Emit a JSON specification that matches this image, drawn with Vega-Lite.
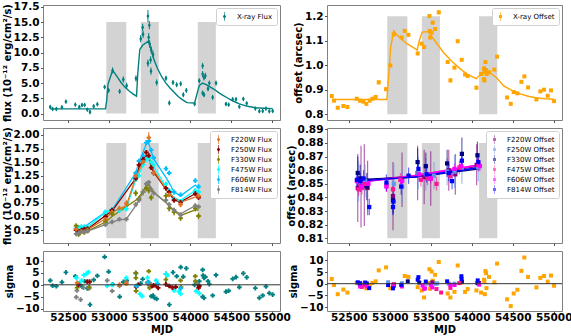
{
 "$schema": "https://vega.github.io/schema/vega-lite/v6.json",
 "background": "white",
 "padding": {"left": 1, "top": 1, "right": 5, "bottom": 0},
 "columns": 2,
 "spacing": {"row": 8, "column": 47},
 "bounds": "flush",
 "resolve": {"scale": {"color": "independent"}, "legend": {"color": "independent"}},
 "datasets": {
  "shade": [{"x0":52970,"x1":53215},{"x0":53392,"x1":53612},{"x0":54090,"x1":54312}],
  "xflux": [
   {"mjd":52283,"flux":1.09,"err":0.3},{"mjd":52312,"flux":0.76,"err":0.3},{"mjd":52357,"flux":0.76,"err":0.25},{"mjd":52426,"flux":1.03,"err":0.3},{"mjd":52475,"flux":1.96,"err":0.3},
   {"mjd":52590,"flux":1.47,"err":0.3},{"mjd":52639,"flux":1.09,"err":0.3},{"mjd":52672,"flux":1.41,"err":0.3},{"mjd":52704,"flux":1.41,"err":0.3},{"mjd":52737,"flux":0.65,"err":0.3},
   {"mjd":52770,"flux":0.27,"err":0.35},{"mjd":52815,"flux":1.2,"err":0.3},{"mjd":52860,"flux":1.52,"err":0.3},{"mjd":52949,"flux":4.35,"err":0.35},{"mjd":52998,"flux":3.8,"err":0.4},
   {"mjd":53047,"flux":7.07,"err":0.5},{"mjd":53133,"flux":3.64,"err":0.4},{"mjd":53178,"flux":5.6,"err":0.5},{"mjd":53219,"flux":4.57,"err":0.5},{"mjd":53333,"flux":5.76,"err":0.5},
   {"mjd":53391,"flux":12.28,"err":0.6},{"mjd":53415,"flux":14.13,"err":0.6},{"mjd":53420,"flux":13.0,"err":0.6},{"mjd":53480,"flux":15.98,"err":1.0},{"mjd":53497,"flux":14.5,"err":0.7},
   {"mjd":53489,"flux":12.5,"err":0.7},{"mjd":53501,"flux":11.4,"err":0.6},{"mjd":53521,"flux":10.4,"err":0.6},{"mjd":53542,"flux":9.7,"err":0.6},{"mjd":53480,"flux":8.26,"err":0.6},
   {"mjd":53513,"flux":8.8,"err":0.6},{"mjd":53517,"flux":6.96,"err":0.6},{"mjd":53587,"flux":5.1,"err":0.5},{"mjd":53701,"flux":5.8,"err":0.4},{"mjd":53742,"flux":1.74,"err":0.4},
   {"mjd":53787,"flux":5.1,"err":0.4},{"mjd":53832,"flux":4.73,"err":0.4},{"mjd":53881,"flux":4.89,"err":0.4},{"mjd":53913,"flux":3.1,"err":0.4},{"mjd":53950,"flux":3.8,"err":0.4},
   {"mjd":54052,"flux":1.58,"err":0.3},{"mjd":54109,"flux":5.38,"err":0.4},{"mjd":54150,"flux":7.83,"err":0.5},{"mjd":54150,"flux":6.47,"err":0.5},{"mjd":54167,"flux":5.92,"err":0.5},
   {"mjd":54183,"flux":6.2,"err":0.5},{"mjd":54150,"flux":3.37,"err":0.4},{"mjd":54167,"flux":3.1,"err":0.4},{"mjd":54216,"flux":4.08,"err":0.4},{"mjd":54232,"flux":5.0,"err":0.4},
   {"mjd":54273,"flux":2.66,"err":0.4},{"mjd":54314,"flux":5.0,"err":0.4},{"mjd":54436,"flux":1.58,"err":0.3},{"mjd":54469,"flux":1.47,"err":0.3},{"mjd":54518,"flux":2.34,"err":0.3},
   {"mjd":54559,"flux":2.34,"err":0.3},{"mjd":54600,"flux":1.14,"err":0.3},{"mjd":54649,"flux":2.4,"err":0.3},{"mjd":54690,"flux":1.68,"err":0.3},{"mjd":54796,"flux":0.82,"err":0.3},
   {"mjd":54845,"flux":0.38,"err":0.3},{"mjd":54886,"flux":0.43,"err":0.3},{"mjd":54926,"flux":0.82,"err":0.3},{"mjd":54967,"flux":0.38,"err":0.3},{"mjd":55008,"flux":0.43,"err":0.3}
  ],
  "xfluxModel": [
   {"mjd":52283,"model":0.78},{"mjd":52960,"model":0.78},{"mjd":52975,"model":2.2},{"mjd":52990,"model":4.8},{"mjd":53047,"model":7.1},{"mjd":53100,"model":6.1},
   {"mjd":53150,"model":5.1},{"mjd":53200,"model":4.3},{"mjd":53250,"model":3.7},{"mjd":53300,"model":3.2},{"mjd":53340,"model":2.85},{"mjd":53355,"model":6.5},
   {"mjd":53380,"model":10.5},{"mjd":53415,"model":11.2},{"mjd":53489,"model":11.9},{"mjd":53520,"model":10.4},{"mjd":53560,"model":8.6},{"mjd":53600,"model":7.3},
   {"mjd":53650,"model":6.0},{"mjd":53700,"model":5.0},{"mjd":53750,"model":4.2},{"mjd":53800,"model":3.5},{"mjd":53850,"model":2.8},{"mjd":53900,"model":2.3},
   {"mjd":53958,"model":1.8},{"mjd":54052,"model":1.75},{"mjd":54080,"model":3.2},{"mjd":54109,"model":4.6},{"mjd":54150,"model":5.0},{"mjd":54200,"model":4.7},
   {"mjd":54250,"model":4.3},{"mjd":54300,"model":3.9},{"mjd":54350,"model":3.4},{"mjd":54400,"model":3.0},{"mjd":54450,"model":2.6},{"mjd":54500,"model":2.2},
   {"mjd":54550,"model":1.9},{"mjd":54600,"model":1.6},{"mjd":54650,"model":1.4},{"mjd":54700,"model":1.2},{"mjd":54800,"model":0.95},{"mjd":54900,"model":0.88},{"mjd":55008,"model":0.82}
  ],
  "xoff": [
   {"mjd":52293,"off":0.874,"err":0.006},{"mjd":52321,"off":0.855,"err":0.006},{"mjd":52366,"off":0.826,"err":0.006},{"mjd":52435,"off":0.833,"err":0.006},{"mjd":52484,"off":0.829,"err":0.006},
   {"mjd":52598,"off":0.863,"err":0.006},{"mjd":52638,"off":0.855,"err":0.006},{"mjd":52679,"off":0.851,"err":0.006},{"mjd":52715,"off":0.842,"err":0.006},{"mjd":52756,"off":0.855,"err":0.006},
   {"mjd":52789,"off":0.863,"err":0.006},{"mjd":52829,"off":0.870,"err":0.006},{"mjd":52866,"off":0.930,"err":0.01},{"mjd":52955,"off":0.902,"err":0.008},{"mjd":53008,"off":0.999,"err":0.008},
   {"mjd":53049,"off":1.126,"err":0.008},{"mjd":53146,"off":1.113,"err":0.006},{"mjd":53183,"off":1.140,"err":0.006},{"mjd":53228,"off":1.124,"err":0.006},{"mjd":53341,"off":1.048,"err":0.008},
   {"mjd":53390,"off":1.088,"err":0.006},{"mjd":53419,"off":1.074,"err":0.006},{"mjd":53484,"off":1.201,"err":0.006},{"mjd":53492,"off":1.113,"err":0.006},{"mjd":53488,"off":1.140,"err":0.006},
   {"mjd":53512,"off":1.133,"err":0.006},{"mjd":53524,"off":1.174,"err":0.006},{"mjd":53553,"off":1.148,"err":0.006},{"mjd":53598,"off":1.216,"err":0.01},{"mjd":53707,"off":1.013,"err":0.006},
   {"mjd":53740,"off":0.938,"err":0.01},{"mjd":53789,"off":0.990,"err":0.006},{"mjd":53829,"off":1.098,"err":0.006},{"mjd":53878,"off":1.022,"err":0.006},{"mjd":53919,"off":0.962,"err":0.006},
   {"mjd":53951,"off":0.956,"err":0.006},{"mjd":54057,"off":0.908,"err":0.008},{"mjd":54114,"off":0.964,"err":0.006},{"mjd":54150,"off":0.987,"err":0.006},{"mjd":54155,"off":0.975,"err":0.006},
   {"mjd":54167,"off":1.013,"err":0.008},{"mjd":54175,"off":0.980,"err":0.006},{"mjd":54180,"off":0.964,"err":0.006},{"mjd":54155,"off":0.938,"err":0.006},{"mjd":54150,"off":0.943,"err":0.006},
   {"mjd":54211,"off":0.971,"err":0.006},{"mjd":54276,"off":0.982,"err":0.006},{"mjd":54309,"off":1.035,"err":0.006},{"mjd":54431,"off":0.868,"err":0.006},{"mjd":54476,"off":0.842,"err":0.006},
   {"mjd":54512,"off":0.890,"err":0.006},{"mjd":54557,"off":0.885,"err":0.006},{"mjd":54606,"off":0.932,"err":0.006},{"mjd":54642,"off":0.954,"err":0.006},{"mjd":54687,"off":0.909,"err":0.006},
   {"mjd":54789,"off":0.860,"err":0.006},{"mjd":54837,"off":0.893,"err":0.006},{"mjd":54882,"off":0.900,"err":0.006},{"mjd":54927,"off":0.875,"err":0.006},{"mjd":54967,"off":0.897,"err":0.006},
   {"mjd":55004,"off":0.853,"err":0.006}
  ],
  "xoffModel": [
   {"mjd":52293,"model":0.86},{"mjd":52965,"model":0.86},{"mjd":52990,"model":0.97},{"mjd":53010,"model":1.07},{"mjd":53049,"model":1.14},{"mjd":53100,"model":1.12},
   {"mjd":53200,"model":1.09},{"mjd":53300,"model":1.07},{"mjd":53335,"model":1.062},{"mjd":53360,"model":1.10},{"mjd":53395,"model":1.135},{"mjd":53470,"model":1.137},
   {"mjd":53550,"model":1.10},{"mjd":53660,"model":1.05},{"mjd":53760,"model":1.015},{"mjd":53860,"model":0.985},{"mjd":53960,"model":0.96},{"mjd":54055,"model":0.945},
   {"mjd":54100,"model":0.96},{"mjd":54150,"model":0.968},{"mjd":54207,"model":0.972},{"mjd":54300,"model":0.95},{"mjd":54390,"model":0.915},{"mjd":54500,"model":0.895},
   {"mjd":54600,"model":0.882},{"mjd":54700,"model":0.872},{"mjd":54800,"model":0.866},{"mjd":54900,"model":0.863},{"mjd":55004,"model":0.861}
  ],
  "oflux": [
   {"f":"F606W","mjd":52600,"flux":0.28,"model":0.28,"err":0.03},{"f":"F606W","mjd":52630,"flux":0.30,"model":0.30,"err":0.03},{"f":"F606W","mjd":52665,"flux":0.31,"model":0.31,"err":0.03},
   {"f":"F606W","mjd":52700,"flux":0.31,"model":0.31,"err":0.03},{"f":"F606W","mjd":52960,"flux":0.58,"model":0.58,"err":0.03},{"f":"F606W","mjd":53040,"flux":0.62,"model":0.62,"err":0.03},
   {"f":"F606W","mjd":53330,"flux":1.30,"model":1.30,"err":0.04},{"f":"F606W","mjd":53370,"flux":1.52,"model":1.50,"err":0.04},{"f":"F606W","mjd":53420,"flux":1.62,"model":1.68,"err":0.04},
   {"f":"F606W","mjd":53460,"flux":1.86,"model":1.84,"err":0.04},{"f":"F606W","mjd":53490,"flux":1.89,"model":1.84,"err":0.04},{"f":"F606W","mjd":53520,"flux":1.72,"model":1.70,"err":0.04},
   {"f":"F606W","mjd":53550,"flux":1.58,"model":1.56,"err":0.04},{"f":"F606W","mjd":53700,"flux":1.38,"model":1.22,"err":0.04},{"f":"F606W","mjd":53740,"flux":1.30,"model":1.12,"err":0.04},
   {"f":"F606W","mjd":53800,"flux":0.95,"model":0.95,"err":0.04},{"f":"F606W","mjd":53880,"flux":0.90,"model":0.88,"err":0.04},{"f":"F606W","mjd":54060,"flux":1.16,"model":1.08,"err":0.04},
   {"f":"F606W","mjd":54100,"flux":1.05,"model":1.02,"err":0.04},
   {"f":"F475W","mjd":52600,"flux":0.27,"model":0.27,"err":0.03},{"f":"F475W","mjd":52630,"flux":0.27,"model":0.27,"err":0.03},{"f":"F475W","mjd":52665,"flux":0.30,"model":0.29,"err":0.03},
   {"f":"F475W","mjd":52700,"flux":0.30,"model":0.30,"err":0.03},{"f":"F475W","mjd":52740,"flux":0.31,"model":0.30,"err":0.03},{"f":"F475W","mjd":52960,"flux":0.58,"model":0.58,"err":0.03},
   {"f":"F475W","mjd":53040,"flux":0.63,"model":0.62,"err":0.03},{"f":"F475W","mjd":53130,"flux":0.61,"model":0.61,"err":0.03},{"f":"F475W","mjd":53215,"flux":0.64,"model":0.64,"err":0.03},
   {"f":"F475W","mjd":53330,"flux":1.18,"model":1.18,"err":0.04},{"f":"F475W","mjd":53370,"flux":1.25,"model":1.28,"err":0.04},{"f":"F475W","mjd":53420,"flux":1.45,"model":1.45,"err":0.04},
   {"f":"F475W","mjd":53460,"flux":1.55,"model":1.56,"err":0.04},{"f":"F475W","mjd":53490,"flux":1.58,"model":1.58,"err":0.04},{"f":"F475W","mjd":53520,"flux":1.50,"model":1.50,"err":0.04},
   {"f":"F475W","mjd":53550,"flux":1.45,"model":1.42,"err":0.04},{"f":"F475W","mjd":53700,"flux":1.10,"model":1.05,"err":0.04},{"f":"F475W","mjd":53740,"flux":0.98,"model":0.97,"err":0.04},
   {"f":"F475W","mjd":53800,"flux":0.82,"model":0.84,"err":0.04},{"f":"F475W","mjd":53880,"flux":0.78,"model":0.80,"err":0.04},{"f":"F475W","mjd":54060,"flux":0.98,"model":0.98,"err":0.04},
   {"f":"F475W","mjd":54100,"flux":0.95,"model":0.95,"err":0.04},
   {"f":"F250W","mjd":52600,"flux":0.25,"model":0.25,"err":0.03},{"f":"F250W","mjd":52630,"flux":0.22,"model":0.24,"err":0.03},{"f":"F250W","mjd":52665,"flux":0.25,"model":0.25,"err":0.03},
   {"f":"F250W","mjd":52700,"flux":0.27,"model":0.26,"err":0.03},{"f":"F250W","mjd":52740,"flux":0.28,"model":0.27,"err":0.03},{"f":"F250W","mjd":52960,"flux":0.50,"model":0.52,"err":0.03},
   {"f":"F250W","mjd":53040,"flux":0.62,"model":0.60,"err":0.03},{"f":"F250W","mjd":53330,"flux":1.20,"model":1.20,"err":0.04},{"f":"F250W","mjd":53370,"flux":1.45,"model":1.40,"err":0.04},
   {"f":"F250W","mjd":53420,"flux":1.55,"model":1.55,"err":0.04},{"f":"F250W","mjd":53460,"flux":1.68,"model":1.62,"err":0.04},{"f":"F250W","mjd":53490,"flux":1.62,"model":1.58,"err":0.04},
   {"f":"F250W","mjd":53520,"flux":1.40,"model":1.42,"err":0.04},{"f":"F250W","mjd":53550,"flux":1.30,"model":1.32,"err":0.04},{"f":"F250W","mjd":53700,"flux":1.02,"model":1.00,"err":0.04},
   {"f":"F250W","mjd":53740,"flux":0.95,"model":0.93,"err":0.04},{"f":"F250W","mjd":53800,"flux":0.80,"model":0.80,"err":0.04},{"f":"F250W","mjd":53880,"flux":0.76,"model":0.77,"err":0.04},
   {"f":"F250W","mjd":54060,"flux":0.92,"model":0.92,"err":0.04},{"f":"F250W","mjd":54100,"flux":0.85,"model":0.86,"err":0.04},
   {"f":"F220W","mjd":52600,"flux":0.27,"model":0.26,"err":0.04},{"f":"F220W","mjd":52665,"flux":0.22,"model":0.24,"err":0.04},{"f":"F220W","mjd":52740,"flux":0.25,"model":0.26,"err":0.04},
   {"f":"F220W","mjd":52960,"flux":0.45,"model":0.46,"err":0.04},{"f":"F220W","mjd":53040,"flux":0.58,"model":0.58,"err":0.04},{"f":"F220W","mjd":53130,"flux":0.65,"model":0.64,"err":0.05},
   {"f":"F220W","mjd":53215,"flux":0.74,"model":0.70,"err":0.06},{"f":"F220W","mjd":53330,"flux":1.25,"model":1.22,"err":0.05},{"f":"F220W","mjd":53420,"flux":1.50,"model":1.50,"err":0.05},
   {"f":"F220W","mjd":53490,"flux":1.95,"model":1.60,"err":0.1},{"f":"F220W","mjd":53550,"flux":1.30,"model":1.35,"err":0.05},{"f":"F220W","mjd":53740,"flux":0.90,"model":0.92,"err":0.05},
   {"f":"F220W","mjd":53880,"flux":0.72,"model":0.76,"err":0.05},{"f":"F220W","mjd":54100,"flux":0.88,"model":0.88,"err":0.05},
   {"f":"F330W","mjd":52600,"flux":0.33,"model":0.22,"err":0.04},{"f":"F330W","mjd":52630,"flux":0.17,"model":0.21,"err":0.04},{"f":"F330W","mjd":52665,"flux":0.22,"model":0.22,"err":0.04},
   {"f":"F330W","mjd":52700,"flux":0.21,"model":0.22,"err":0.04},{"f":"F330W","mjd":52740,"flux":0.24,"model":0.23,"err":0.04},{"f":"F330W","mjd":52960,"flux":0.40,"model":0.40,"err":0.05},
   {"f":"F330W","mjd":53040,"flux":0.55,"model":0.50,"err":0.05},{"f":"F330W","mjd":53330,"flux":0.93,"model":0.80,"err":0.06},{"f":"F330W","mjd":53370,"flux":0.82,"model":0.86,"err":0.06},
   {"f":"F330W","mjd":53420,"flux":0.95,"model":0.96,"err":0.06},{"f":"F330W","mjd":53460,"flux":1.02,"model":1.05,"err":0.06},{"f":"F330W","mjd":53490,"flux":0.98,"model":1.08,"err":0.06},
   {"f":"F330W","mjd":53520,"flux":0.85,"model":0.98,"err":0.06},{"f":"F330W","mjd":53700,"flux":0.88,"model":0.76,"err":0.06},{"f":"F330W","mjd":53740,"flux":0.65,"model":0.70,"err":0.06},
   {"f":"F330W","mjd":53800,"flux":0.58,"model":0.60,"err":0.06},{"f":"F330W","mjd":53880,"flux":0.47,"model":0.52,"err":0.05},{"f":"F330W","mjd":54060,"flux":0.65,"model":0.62,"err":0.06},
   {"f":"F330W","mjd":54100,"flux":0.51,"model":0.62,"err":0.06},
   {"f":"F814W","mjd":52600,"flux":0.18,"model":0.19,"err":0.03},{"f":"F814W","mjd":52630,"flux":0.20,"model":0.20,"err":0.03},{"f":"F814W","mjd":52665,"flux":0.22,"model":0.21,"err":0.03},
   {"f":"F814W","mjd":52700,"flux":0.22,"model":0.22,"err":0.03},{"f":"F814W","mjd":52740,"flux":0.23,"model":0.23,"err":0.03},{"f":"F814W","mjd":52960,"flux":0.35,"model":0.35,"err":0.03},
   {"f":"F814W","mjd":53040,"flux":0.40,"model":0.40,"err":0.03},{"f":"F814W","mjd":53130,"flux":0.45,"model":0.44,"err":0.03},{"f":"F814W","mjd":53215,"flux":0.45,"model":0.45,"err":0.03},
   {"f":"F814W","mjd":53330,"flux":0.72,"model":0.70,"err":0.04},{"f":"F814W","mjd":53370,"flux":0.80,"model":0.80,"err":0.04},{"f":"F814W","mjd":53420,"flux":0.95,"model":0.95,"err":0.04},
   {"f":"F814W","mjd":53460,"flux":1.10,"model":1.08,"err":0.04},{"f":"F814W","mjd":53490,"flux":1.13,"model":1.12,"err":0.04},{"f":"F814W","mjd":53520,"flux":1.00,"model":1.02,"err":0.04},
   {"f":"F814W","mjd":53550,"flux":0.93,"model":0.95,"err":0.04},{"f":"F814W","mjd":53700,"flux":0.80,"model":0.76,"err":0.04},{"f":"F814W","mjd":53740,"flux":0.72,"model":0.70,"err":0.04},
   {"f":"F814W","mjd":53800,"flux":0.62,"model":0.61,"err":0.04},{"f":"F814W","mjd":53880,"flux":0.53,"model":0.55,"err":0.04},{"f":"F814W","mjd":54060,"flux":0.70,"model":0.70,"err":0.04},
   {"f":"F814W","mjd":54100,"flux":0.68,"model":0.68,"err":0.04}
  ],
  "ooff": [
   {"f":"F220W","mjd":52610,"off":0.847,"err":0.025},{"f":"F220W","mjd":52650,"off":0.848,"err":0.03},{"f":"F220W","mjd":52690,"off":0.849,"err":0.03},{"f":"F220W","mjd":52730,"off":0.847,"err":0.02},
   {"f":"F220W","mjd":53040,"off":0.841,"err":0.025},{"f":"F220W","mjd":53150,"off":0.853,"err":0.02},{"f":"F220W","mjd":53340,"off":0.858,"err":0.02},{"f":"F220W","mjd":53420,"off":0.855,"err":0.02},
   {"f":"F220W","mjd":53500,"off":0.854,"err":0.02},{"f":"F220W","mjd":53720,"off":0.860,"err":0.015},{"f":"F220W","mjd":53800,"off":0.857,"err":0.015},{"f":"F220W","mjd":54060,"off":0.864,"err":0.015},
   {"f":"F250W","mjd":52620,"off":0.852,"err":0.015},{"f":"F250W","mjd":52700,"off":0.852,"err":0.012},{"f":"F250W","mjd":53050,"off":0.850,"err":0.015},{"f":"F250W","mjd":53150,"off":0.848,"err":0.012},
   {"f":"F250W","mjd":53350,"off":0.858,"err":0.012},{"f":"F250W","mjd":53440,"off":0.857,"err":0.012},{"f":"F250W","mjd":53540,"off":0.856,"err":0.01},{"f":"F250W","mjd":53700,"off":0.859,"err":0.01},
   {"f":"F250W","mjd":53790,"off":0.859,"err":0.012},{"f":"F250W","mjd":53880,"off":0.862,"err":0.012},{"f":"F250W","mjd":54080,"off":0.862,"err":0.01},
   {"f":"F330W","mjd":52610,"off":0.858,"err":0.012},{"f":"F330W","mjd":52640,"off":0.854,"err":0.01},{"f":"F330W","mjd":52720,"off":0.848,"err":0.01},{"f":"F330W","mjd":53040,"off":0.838,"err":0.01},
   {"f":"F330W","mjd":53340,"off":0.866,"err":0.01},{"f":"F330W","mjd":53440,"off":0.863,"err":0.01},{"f":"F330W","mjd":53700,"off":0.865,"err":0.01},{"f":"F330W","mjd":53880,"off":0.872,"err":0.012},
   {"f":"F330W","mjd":54070,"off":0.871,"err":0.01},
   {"f":"F475W","mjd":52620,"off":0.846,"err":0.005},{"f":"F475W","mjd":52660,"off":0.847,"err":0.005},{"f":"F475W","mjd":52700,"off":0.850,"err":0.005},{"f":"F475W","mjd":52960,"off":0.849,"err":0.005},
   {"f":"F475W","mjd":53040,"off":0.846,"err":0.005},{"f":"F475W","mjd":53130,"off":0.853,"err":0.005},{"f":"F475W","mjd":53380,"off":0.853,"err":0.005},{"f":"F475W","mjd":53460,"off":0.854,"err":0.005},
   {"f":"F475W","mjd":53570,"off":0.850,"err":0.005},{"f":"F475W","mjd":53740,"off":0.856,"err":0.005},{"f":"F475W","mjd":53850,"off":0.862,"err":0.005},{"f":"F475W","mjd":54080,"off":0.864,"err":0.005},
   {"f":"F606W","mjd":52600,"off":0.852,"err":0.004},{"f":"F606W","mjd":52650,"off":0.848,"err":0.004},{"f":"F606W","mjd":52740,"off":0.850,"err":0.004},{"f":"F606W","mjd":52960,"off":0.848,"err":0.004},
   {"f":"F606W","mjd":53150,"off":0.852,"err":0.004},{"f":"F606W","mjd":53360,"off":0.857,"err":0.004},{"f":"F606W","mjd":53500,"off":0.854,"err":0.004},{"f":"F606W","mjd":53790,"off":0.861,"err":0.004},
   {"f":"F606W","mjd":53870,"off":0.863,"err":0.004},{"f":"F606W","mjd":54100,"off":0.863,"err":0.004},
   {"f":"F814W","mjd":52600,"off":0.853,"err":0.006},{"f":"F814W","mjd":52640,"off":0.852,"err":0.006},{"f":"F814W","mjd":52680,"off":0.854,"err":0.006},{"f":"F814W","mjd":52750,"off":0.833,"err":0.006},
   {"f":"F814W","mjd":52960,"off":0.851,"err":0.006},{"f":"F814W","mjd":53040,"off":0.833,"err":0.006},{"f":"F814W","mjd":53045,"off":0.837,"err":0.006},{"f":"F814W","mjd":53140,"off":0.848,"err":0.006},
   {"f":"F814W","mjd":53230,"off":0.856,"err":0.006},{"f":"F814W","mjd":53350,"off":0.861,"err":0.006},{"f":"F814W","mjd":53450,"off":0.857,"err":0.006},{"f":"F814W","mjd":53720,"off":0.858,"err":0.006},
   {"f":"F814W","mjd":53760,"off":0.852,"err":0.006},{"f":"F814W","mjd":53880,"off":0.867,"err":0.006},{"f":"F814W","mjd":54080,"off":0.866,"err":0.006}
  ],
  "ooffModel": [
   {"f":"F220W","mjd":52600,"model":0.852},{"f":"F220W","mjd":53300,"model":0.856},{"f":"F220W","mjd":54100,"model":0.863},
   {"f":"F250W","mjd":52600,"model":0.852},{"f":"F250W","mjd":53300,"model":0.855},{"f":"F250W","mjd":54100,"model":0.862},
   {"f":"F330W","mjd":52600,"model":0.853},{"f":"F330W","mjd":53300,"model":0.855},{"f":"F330W","mjd":54100,"model":0.861},
   {"f":"F475W","mjd":52600,"model":0.851},{"f":"F475W","mjd":53300,"model":0.856},{"f":"F475W","mjd":54100,"model":0.864},
   {"f":"F606W","mjd":52600,"model":0.851},{"f":"F606W","mjd":53300,"model":0.856},{"f":"F606W","mjd":54100,"model":0.864},
   {"f":"F814W","mjd":52600,"model":0.852},{"f":"F814W","mjd":53300,"model":0.855},{"f":"F814W","mjd":54100,"model":0.862}
  ],
  "sigL": [
   {"s":"X","mjd":52283,"v":1.8},{"s":"X","mjd":52312,"v":-0.4},{"s":"X","mjd":52357,"v":-0.6},{"s":"X","mjd":52426,"v":1.1},{"s":"X","mjd":52475,"v":5.2},
   {"s":"X","mjd":52590,"v":3.6},{"s":"X","mjd":52639,"v":0.5},{"s":"X","mjd":52672,"v":-0.8},{"s":"X","mjd":52704,"v":1.5},{"s":"X","mjd":52737,"v":-1.5},
   {"s":"X","mjd":52770,"v":-8.3},{"s":"X","mjd":52815,"v":2.1},{"s":"X","mjd":52860,"v":3.8},{"s":"X","mjd":52949,"v":11.7},{"s":"X","mjd":52998,"v":5.5},
   {"s":"X","mjd":53047,"v":0.2},{"s":"X","mjd":53133,"v":-5.0},{"s":"X","mjd":53178,"v":1.2},{"s":"X","mjd":53219,"v":1.8},{"s":"X","mjd":53333,"v":4.8},
   {"s":"X","mjd":53391,"v":0.6},{"s":"X","mjd":53415,"v":2.4},{"s":"X","mjd":53480,"v":1.0},{"s":"X","mjd":53497,"v":0.8},{"s":"X","mjd":53501,"v":-0.3},
   {"s":"X","mjd":53521,"v":-4.8},{"s":"X","mjd":53542,"v":-4.5},{"s":"X","mjd":53560,"v":-5.5},{"s":"X","mjd":53587,"v":-5.9},{"s":"X","mjd":53701,"v":4.6},
   {"s":"X","mjd":53742,"v":-8.3},{"s":"X","mjd":53787,"v":5.2},{"s":"X","mjd":53832,"v":3.6},{"s":"X","mjd":53881,"v":7.4},{"s":"X","mjd":53913,"v":3.4},
   {"s":"X","mjd":53950,"v":6.9},{"s":"X","mjd":54052,"v":0.0},{"s":"X","mjd":54109,"v":1.5},{"s":"X","mjd":54150,"v":6.3},{"s":"X","mjd":54155,"v":3.9},
   {"s":"X","mjd":54167,"v":2.9},{"s":"X","mjd":54183,"v":3.3},{"s":"X","mjd":54150,"v":-5.0},{"s":"X","mjd":54167,"v":-5.5},{"s":"X","mjd":54216,"v":1.5},
   {"s":"X","mjd":54232,"v":0.3},{"s":"X","mjd":54273,"v":-4.5},{"s":"X","mjd":54314,"v":4.1},{"s":"X","mjd":54436,"v":-2.9},{"s":"X","mjd":54469,"v":-2.5},
   {"s":"X","mjd":54518,"v":2.5},{"s":"X","mjd":54559,"v":3.2},{"s":"X","mjd":54600,"v":-1.0},{"s":"X","mjd":54649,"v":4.8},{"s":"X","mjd":54690,"v":3.1},
   {"s":"X","mjd":54796,"v":-1.4},{"s":"X","mjd":54845,"v":-5.5},{"s":"X","mjd":54886,"v":-4.5},{"s":"X","mjd":54926,"v":-0.7},{"s":"X","mjd":54967,"v":-3.5},
   {"s":"X","mjd":55008,"v":-4.1},
   {"s":"F475W","mjd":52602,"v":2.9},{"s":"F475W","mjd":52640,"v":0.5},{"s":"F475W","mjd":52667,"v":1.8},{"s":"F475W","mjd":52696,"v":4.1},{"s":"F475W","mjd":52724,"v":4.6},
   {"s":"F475W","mjd":52749,"v":5.3},{"s":"F475W","mjd":52981,"v":-0.5},{"s":"F475W","mjd":53042,"v":0.0},{"s":"F475W","mjd":53214,"v":2.9},{"s":"F475W","mjd":53381,"v":-3.8},
   {"s":"F475W","mjd":53410,"v":-4.8},{"s":"F475W","mjd":53475,"v":3.0},{"s":"F475W","mjd":53580,"v":1.8},{"s":"F475W","mjd":53700,"v":4.6},{"s":"F475W","mjd":53720,"v":3.9},
   {"s":"F475W","mjd":53800,"v":-2.4},{"s":"F475W","mjd":53860,"v":-2.8},{"s":"F475W","mjd":53880,"v":-3.8},{"s":"F475W","mjd":54070,"v":-2.7},{"s":"F475W","mjd":54110,"v":-3.6},
   {"s":"F814W","mjd":52610,"v":-2.4},{"s":"F814W","mjd":52602,"v":-5.2},{"s":"F814W","mjd":52655,"v":-6.2},{"s":"F814W","mjd":52690,"v":-1.2},{"s":"F814W","mjd":52760,"v":-1.5},
   {"s":"F814W","mjd":52981,"v":1.8},{"s":"F814W","mjd":53042,"v":-2.6},{"s":"F814W","mjd":53132,"v":-0.5},{"s":"F814W","mjd":53214,"v":1.1},{"s":"F814W","mjd":53470,"v":0.8},
   {"s":"F814W","mjd":54080,"v":0.4},
   {"s":"F330W","mjd":52612,"v":-1.2},{"s":"F330W","mjd":52760,"v":-1.0},{"s":"F330W","mjd":53330,"v":5.0},{"s":"F330W","mjd":53332,"v":2.9},{"s":"F330W","mjd":53334,"v":-2.6},
   {"s":"F330W","mjd":53490,"v":5.7},{"s":"F330W","mjd":53500,"v":-1.3},{"s":"F330W","mjd":53700,"v":2.2},{"s":"F330W","mjd":53880,"v":1.8},{"s":"F330W","mjd":53885,"v":-1.0},
   {"s":"F330W","mjd":54060,"v":3.6},{"s":"F330W","mjd":54062,"v":1.5},
   {"s":"F250W","mjd":52630,"v":0.0},{"s":"F250W","mjd":52737,"v":1.3},{"s":"F250W","mjd":52765,"v":1.3},{"s":"F250W","mjd":53335,"v":-0.8},{"s":"F250W","mjd":53360,"v":0.0},
   {"s":"F250W","mjd":53530,"v":-0.5},{"s":"F250W","mjd":53550,"v":-0.2},{"s":"F250W","mjd":53580,"v":-0.3},{"s":"F250W","mjd":53605,"v":-1.3},{"s":"F250W","mjd":53700,"v":0.2},
   {"s":"F250W","mjd":53740,"v":-0.5},{"s":"F250W","mjd":53780,"v":-1.2},{"s":"F250W","mjd":53820,"v":-0.9},{"s":"F250W","mjd":54100,"v":-1.3},{"s":"F250W","mjd":54110,"v":-0.5},
   {"s":"F220W","mjd":52612,"v":0.8},{"s":"F220W","mjd":53132,"v":0.1},{"s":"F220W","mjd":53215,"v":0.5},{"s":"F220W","mjd":53500,"v":0.2},
   {"s":"F606W","mjd":53340,"v":-0.5},{"s":"F606W","mjd":53480,"v":1.0},{"s":"F606W","mjd":53600,"v":0.5},{"s":"F606W","mjd":53880,"v":-1.5}
  ],
  "sigR": [
   {"s":"X","mjd":52293,"v":2.0},{"s":"X","mjd":52321,"v":-0.6},{"s":"X","mjd":52366,"v":-4.5},{"s":"X","mjd":52435,"v":-2.5},{"s":"X","mjd":52484,"v":-3.8},
   {"s":"X","mjd":52598,"v":0.3},{"s":"X","mjd":52638,"v":-0.5},{"s":"X","mjd":52679,"v":-0.7},{"s":"X","mjd":52715,"v":-2.0},{"s":"X","mjd":52756,"v":-0.6},
   {"s":"X","mjd":52789,"v":0.3},{"s":"X","mjd":52829,"v":1.0},{"s":"X","mjd":52866,"v":5.7},{"s":"X","mjd":52955,"v":7.0},{"s":"X","mjd":53008,"v":-1.9},
   {"s":"X","mjd":53049,"v":-0.8},{"s":"X","mjd":53146,"v":-0.5},{"s":"X","mjd":53183,"v":3.3},{"s":"X","mjd":53228,"v":2.9},{"s":"X","mjd":53341,"v":-1.5},
   {"s":"X","mjd":53390,"v":-2.9},{"s":"X","mjd":53419,"v":-5.9},{"s":"X","mjd":53484,"v":6.2},{"s":"X","mjd":53492,"v":-2.2},{"s":"X","mjd":53488,"v":0.3},
   {"s":"X","mjd":53512,"v":5.2},{"s":"X","mjd":53524,"v":1.3},{"s":"X","mjd":53553,"v":3.8},{"s":"X","mjd":53598,"v":9.3},{"s":"X","mjd":53707,"v":-4.2},
   {"s":"X","mjd":53740,"v":-5.9},{"s":"X","mjd":53789,"v":-3.5},{"s":"X","mjd":53829,"v":7.8},{"s":"X","mjd":53878,"v":0.5},{"s":"X","mjd":53919,"v":-3.5},
   {"s":"X","mjd":53951,"v":-2.3},{"s":"X","mjd":54057,"v":-2.9},{"s":"X","mjd":54114,"v":-3.8},{"s":"X","mjd":54150,"v":1.7},{"s":"X","mjd":54155,"v":0.9},
   {"s":"X","mjd":54167,"v":5.4},{"s":"X","mjd":54175,"v":4.5},{"s":"X","mjd":54180,"v":-1.9},{"s":"X","mjd":54160,"v":-4.5},{"s":"X","mjd":54211,"v":2.9},
   {"s":"X","mjd":54276,"v":0.6},{"s":"X","mjd":54309,"v":8.6},{"s":"X","mjd":54431,"v":-6.7},{"s":"X","mjd":54476,"v":-9.6},{"s":"X","mjd":54512,"v":-4.2},
   {"s":"X","mjd":54557,"v":-2.6},{"s":"X","mjd":54606,"v":5.5},{"s":"X","mjd":54642,"v":11.2},{"s":"X","mjd":54687,"v":2.9},{"s":"X","mjd":54789,"v":-1.6},
   {"s":"X","mjd":54837,"v":2.5},{"s":"X","mjd":54882,"v":3.3},{"s":"X","mjd":54927,"v":0.9},{"s":"X","mjd":54967,"v":3.5},{"s":"X","mjd":55004,"v":-0.9},
   {"s":"F250W","mjd":52620,"v":0.1},{"s":"F250W","mjd":52980,"v":0.6},{"s":"F250W","mjd":53150,"v":0.2},{"s":"F250W","mjd":53440,"v":0.0},{"s":"F250W","mjd":53500,"v":0.0},
   {"s":"F250W","mjd":53560,"v":0.0},{"s":"F250W","mjd":53580,"v":0.1},{"s":"F250W","mjd":53720,"v":0.0},{"s":"F250W","mjd":53790,"v":0.0},{"s":"F250W","mjd":53850,"v":0.2},{"s":"F250W","mjd":54080,"v":0.0},
   {"s":"F220W","mjd":52640,"v":-0.6},{"s":"F220W","mjd":53050,"v":-0.3},{"s":"F220W","mjd":53520,"v":0.6},{"s":"F220W","mjd":54090,"v":0.3},
   {"s":"F330W","mjd":52720,"v":0.1},{"s":"F330W","mjd":53050,"v":-0.8},{"s":"F330W","mjd":53220,"v":1.0},{"s":"F330W","mjd":53360,"v":0.5},{"s":"F330W","mjd":53880,"v":0.9},{"s":"F330W","mjd":54070,"v":0.3},
   {"s":"F475W","mjd":52660,"v":-1.4},{"s":"F475W","mjd":52700,"v":-0.5},{"s":"F475W","mjd":53050,"v":-0.3},{"s":"F475W","mjd":53420,"v":-2.2},{"s":"F475W","mjd":53570,"v":-2.3},
   {"s":"F475W","mjd":53627,"v":-3.8},{"s":"F475W","mjd":53740,"v":-1.8},{"s":"F475W","mjd":53850,"v":0.3},
   {"s":"F606W","mjd":52640,"v":-1.2},{"s":"F606W","mjd":52720,"v":-1.2},{"s":"F606W","mjd":53040,"v":-1.2},{"s":"F606W","mjd":53150,"v":-1.2},{"s":"F606W","mjd":53400,"v":-0.8},
   {"s":"F606W","mjd":53430,"v":-2.0},{"s":"F606W","mjd":53500,"v":-0.5},{"s":"F606W","mjd":53520,"v":-1.6},{"s":"F606W","mjd":53740,"v":-0.5},{"s":"F606W","mjd":53790,"v":-0.6},{"s":"F606W","mjd":54090,"v":-0.4},
   {"s":"F814W","mjd":52610,"v":0.6},{"s":"F814W","mjd":52640,"v":0.2},{"s":"F814W","mjd":52700,"v":0.5},{"s":"F814W","mjd":52750,"v":-1.9},{"s":"F814W","mjd":52980,"v":-0.6},
   {"s":"F814W","mjd":53040,"v":-2.0},{"s":"F814W","mjd":53140,"v":-0.5},{"s":"F814W","mjd":53341,"v":1.7},{"s":"F814W","mjd":53350,"v":2.8},{"s":"F814W","mjd":53440,"v":0.9},
   {"s":"F814W","mjd":53700,"v":1.0},{"s":"F814W","mjd":53874,"v":3.2},{"s":"F814W","mjd":53876,"v":2.0},{"s":"F814W","mjd":54073,"v":1.4}
  ]
 },
 "concat": [
  {
   "width": 237, "height": 115,
   "layer": [
    {"data": {"name": "shade"}, "mark": {"type": "rect", "color": "#d3d3d3"},
     "encoding": {
      "x": {"field": "x0", "type": "quantitative", "title": null, "scale": {"domain": [52194, 55098], "nice": false, "zero": false}, "axis": {"values": [52500,53000,53500,54000,54500,55000], "labels": false, "title": null}},
      "x2": {"field": "x1"},
      "y": {"datum": 0, "type": "quantitative", "title": "flux (10⁻¹² erg/cm²/s)", "scale": {"domain": [-1.05, 17.8], "nice": false, "zero": false}, "axis": {"values": [0,2.5,5,7.5,10,12.5,15,17.5], "format": ".1f", "title": "flux (10⁻¹² erg/cm²/s)"}},
      "y2": {"datum": 15}}},
    {"data": {"name": "xflux"}, "mark": {"type": "errorbar", "thickness": 1},
     "encoding": {
      "x": {"field": "mjd", "type": "quantitative", "title": null, "scale": {"domain": [52194, 55098], "nice": false, "zero": false}, "axis": {"values": [52500,53000,53500,54000,54500,55000], "labels": false, "title": null}},
      "y": {"field": "flux", "type": "quantitative", "title": "flux (10⁻¹² erg/cm²/s)", "scale": {"domain": [-1.05, 17.8], "nice": false, "zero": false}, "axis": {"values": [0,2.5,5,7.5,10,12.5,15,17.5], "format": ".1f", "title": "flux (10⁻¹² erg/cm²/s)"}},
      "yError": {"field": "err"},
      "color": {"datum": "X-ray Flux", "title": null}}},
    {"data": {"name": "xfluxModel"}, "mark": {"type": "line", "strokeWidth": 1.4},
     "encoding": {
      "x": {"field": "mjd", "type": "quantitative", "title": null, "scale": {"domain": [52194, 55098], "nice": false, "zero": false}, "axis": {"values": [52500,53000,53500,54000,54500,55000], "labels": false, "title": null}},
      "y": {"field": "model", "type": "quantitative", "title": "flux (10⁻¹² erg/cm²/s)", "scale": {"domain": [-1.05, 17.8], "nice": false, "zero": false}, "axis": {"values": [0,2.5,5,7.5,10,12.5,15,17.5], "format": ".1f", "title": "flux (10⁻¹² erg/cm²/s)"}},
      "color": {"datum": "X-ray Flux", "title": null}}},
    {"data": {"name": "xflux"}, "mark": {"type": "point", "filled": true, "opacity": 1, "size": 24, "shape": "M0,-1L0.6,0L0,1L-0.6,0Z"},
     "encoding": {
      "x": {"field": "mjd", "type": "quantitative", "title": null, "scale": {"domain": [52194, 55098], "nice": false, "zero": false}, "axis": {"values": [52500,53000,53500,54000,54500,55000], "labels": false, "title": null}},
      "y": {"field": "flux", "type": "quantitative", "title": "flux (10⁻¹² erg/cm²/s)", "scale": {"domain": [-1.05, 17.8], "nice": false, "zero": false}, "axis": {"values": [0,2.5,5,7.5,10,12.5,15,17.5], "format": ".1f", "title": "flux (10⁻¹² erg/cm²/s)"}},
      "color": {"datum": "X-ray Flux", "title": null, "scale": {"domain": ["X-ray Flux"], "range": ["#008080"]},
       "legend": {"title": null, "symbolType": "M-0.07,-1H0.07V-0.45L0.35,0L0.07,0.45V1H-0.07V0.45L-0.35,0L-0.07,-0.45Z"}}}}
   ]
  },
  {
   "width": 235, "height": 115,
   "layer": [
    {"data": {"name": "shade"}, "mark": {"type": "rect", "color": "#d3d3d3"},
     "encoding": {
      "x": {"field": "x0", "type": "quantitative", "title": null, "scale": {"domain": [52235, 55101], "nice": false, "zero": false}, "axis": {"values": [52500,53000,53500,54000,54500,55000], "labels": false, "title": null}},
      "x2": {"field": "x1"},
      "y": {"datum": 0.8, "type": "quantitative", "title": "offset (arcsec)", "scale": {"domain": [0.776, 1.246], "nice": false, "zero": false}, "axis": {"values": [0.8,0.9,1.0,1.1,1.2], "format": ".1f", "title": "offset (arcsec)"}},
      "y2": {"datum": 1.2}}},
    {"data": {"name": "xoff"}, "mark": {"type": "errorbar", "thickness": 1},
     "encoding": {
      "x": {"field": "mjd", "type": "quantitative", "title": null, "scale": {"domain": [52235, 55101], "nice": false, "zero": false}, "axis": {"values": [52500,53000,53500,54000,54500,55000], "labels": false, "title": null}},
      "y": {"field": "off", "type": "quantitative", "title": "offset (arcsec)", "scale": {"domain": [0.776, 1.246], "nice": false, "zero": false}, "axis": {"values": [0.8,0.9,1.0,1.1,1.2], "format": ".1f", "title": "offset (arcsec)"}},
      "yError": {"field": "err"},
      "color": {"datum": "X-ray Offset", "title": null}}},
    {"data": {"name": "xoffModel"}, "mark": {"type": "line", "strokeWidth": 1.4},
     "encoding": {
      "x": {"field": "mjd", "type": "quantitative", "title": null, "scale": {"domain": [52235, 55101], "nice": false, "zero": false}, "axis": {"values": [52500,53000,53500,54000,54500,55000], "labels": false, "title": null}},
      "y": {"field": "model", "type": "quantitative", "title": "offset (arcsec)", "scale": {"domain": [0.776, 1.246], "nice": false, "zero": false}, "axis": {"values": [0.8,0.9,1.0,1.1,1.2], "format": ".1f", "title": "offset (arcsec)"}},
      "color": {"datum": "X-ray Offset", "title": null}}},
    {"data": {"name": "xoff"}, "mark": {"type": "point", "filled": true, "opacity": 1, "size": 16, "shape": "square"},
     "encoding": {
      "x": {"field": "mjd", "type": "quantitative", "title": null, "scale": {"domain": [52235, 55101], "nice": false, "zero": false}, "axis": {"values": [52500,53000,53500,54000,54500,55000], "labels": false, "title": null}},
      "y": {"field": "off", "type": "quantitative", "title": "offset (arcsec)", "scale": {"domain": [0.776, 1.246], "nice": false, "zero": false}, "axis": {"values": [0.8,0.9,1.0,1.1,1.2], "format": ".1f", "title": "offset (arcsec)"}},
      "color": {"datum": "X-ray Offset", "title": null, "scale": {"domain": ["X-ray Offset"], "range": ["#ffa500"]},
       "legend": {"title": null, "symbolType": "M-0.07,-1H0.07V-0.32H0.32V0.32H0.07V1H-0.07V0.32H-0.32V-0.32H-0.07Z"}}}}
   ]
  },
  {
   "width": 237, "height": 115,
   "layer": [
    {"data": {"name": "shade"}, "mark": {"type": "rect", "color": "#d3d3d3"},
     "encoding": {
      "x": {"field": "x0", "type": "quantitative", "title": null, "scale": {"domain": [52194, 55098], "nice": false, "zero": false}, "axis": {"values": [52500,53000,53500,54000,54500,55000], "labels": false, "title": null}},
      "x2": {"field": "x1"},
      "y": {"datum": 0.1, "type": "quantitative", "title": "flux (10⁻¹² erg/cm²/s)", "scale": {"domain": [0.013, 2.128], "nice": false, "zero": false}, "axis": {"values": [0.25,0.5,0.75,1.0,1.25,1.5,1.75,2.0], "format": ".2f", "title": "flux (10⁻¹² erg/cm²/s)"}},
      "y2": {"datum": 1.85}}},
    {"data": {"name": "oflux"}, "mark": {"type": "errorbar", "thickness": 1},
     "encoding": {
      "x": {"field": "mjd", "type": "quantitative", "title": null, "scale": {"domain": [52194, 55098], "nice": false, "zero": false}, "axis": {"values": [52500,53000,53500,54000,54500,55000], "labels": false, "title": null}},
      "y": {"field": "flux", "type": "quantitative", "title": "flux (10⁻¹² erg/cm²/s)", "scale": {"domain": [0.013, 2.128], "nice": false, "zero": false}, "axis": {"values": [0.25,0.5,0.75,1.0,1.25,1.5,1.75,2.0], "format": ".2f", "title": "flux (10⁻¹² erg/cm²/s)"}},
      "yError": {"field": "err"},
      "color": {"field": "f", "type": "nominal", "title": null}}},
    {"data": {"name": "oflux"}, "mark": {"type": "line", "strokeWidth": 1.3},
     "encoding": {
      "x": {"field": "mjd", "type": "quantitative", "title": null, "scale": {"domain": [52194, 55098], "nice": false, "zero": false}, "axis": {"values": [52500,53000,53500,54000,54500,55000], "labels": false, "title": null}},
      "y": {"field": "model", "type": "quantitative", "title": "flux (10⁻¹² erg/cm²/s)", "scale": {"domain": [0.013, 2.128], "nice": false, "zero": false}, "axis": {"values": [0.25,0.5,0.75,1.0,1.25,1.5,1.75,2.0], "format": ".2f", "title": "flux (10⁻¹² erg/cm²/s)"}},
      "color": {"field": "f", "type": "nominal", "title": null}}},
    {"data": {"name": "oflux"}, "mark": {"type": "point", "filled": true, "opacity": 1, "size": 22, "shape": "cross"},
     "encoding": {
      "x": {"field": "mjd", "type": "quantitative", "title": null, "scale": {"domain": [52194, 55098], "nice": false, "zero": false}, "axis": {"values": [52500,53000,53500,54000,54500,55000], "labels": false, "title": null}},
      "y": {"field": "flux", "type": "quantitative", "title": "flux (10⁻¹² erg/cm²/s)", "scale": {"domain": [0.013, 2.128], "nice": false, "zero": false}, "axis": {"values": [0.25,0.5,0.75,1.0,1.25,1.5,1.75,2.0], "format": ".2f", "title": "flux (10⁻¹² erg/cm²/s)"}},
      "color": {"field": "f", "type": "nominal", "title": null,
       "scale": {"domain": ["F220W","F250W","F330W","F475W","F606W","F814W"], "range": ["#e0701e","#8b0000","#808000","#00ffff","#00bfff","#808080"]},
       "legend": {"title": null, "labelExpr": "datum.label + ' Flux'", "symbolType": "M-0.07,-1H0.07V-0.45L0.35,0L0.07,0.45V1H-0.07V0.45L-0.35,0L-0.07,-0.45Z"}}}}
   ]
  },
  {
   "width": 235, "height": 115,
   "layer": [
    {"data": {"name": "shade"}, "mark": {"type": "rect", "color": "#d3d3d3"},
     "encoding": {
      "x": {"field": "x0", "type": "quantitative", "title": null, "scale": {"domain": [52235, 55101], "nice": false, "zero": false}, "axis": {"values": [52500,53000,53500,54000,54500,55000], "labels": false, "title": null}},
      "x2": {"field": "x1"},
      "y": {"datum": 0.81, "type": "quantitative", "title": "offset (arcsec)", "scale": {"domain": [0.8066, 0.891], "nice": false, "zero": false}, "axis": {"values": [0.81,0.82,0.83,0.84,0.85,0.86,0.87,0.88,0.89], "format": ".2f", "title": "offset (arcsec)"}},
      "y2": {"datum": 0.88}}},
    {"data": {"name": "ooff"}, "mark": {"type": "errorbar", "thickness": 1.2, "opacity": 0.6},
     "encoding": {
      "x": {"field": "mjd", "type": "quantitative", "title": null, "scale": {"domain": [52235, 55101], "nice": false, "zero": false}, "axis": {"values": [52500,53000,53500,54000,54500,55000], "labels": false, "title": null}},
      "y": {"field": "off", "type": "quantitative", "title": "offset (arcsec)", "scale": {"domain": [0.8066, 0.891], "nice": false, "zero": false}, "axis": {"values": [0.81,0.82,0.83,0.84,0.85,0.86,0.87,0.88,0.89], "format": ".2f", "title": "offset (arcsec)"}},
      "yError": {"field": "err"},
      "color": {"field": "f", "type": "nominal", "title": null}}},
    {"data": {"name": "ooffModel"}, "mark": {"type": "line", "strokeWidth": 1.4},
     "encoding": {
      "x": {"field": "mjd", "type": "quantitative", "title": null, "scale": {"domain": [52235, 55101], "nice": false, "zero": false}, "axis": {"values": [52500,53000,53500,54000,54500,55000], "labels": false, "title": null}},
      "y": {"field": "model", "type": "quantitative", "title": "offset (arcsec)", "scale": {"domain": [0.8066, 0.891], "nice": false, "zero": false}, "axis": {"values": [0.81,0.82,0.83,0.84,0.85,0.86,0.87,0.88,0.89], "format": ".2f", "title": "offset (arcsec)"}},
      "color": {"field": "f", "type": "nominal", "title": null}}},
    {"data": {"name": "ooff"}, "mark": {"type": "point", "filled": true, "opacity": 1, "size": 18, "shape": "square"},
     "encoding": {
      "x": {"field": "mjd", "type": "quantitative", "title": null, "scale": {"domain": [52235, 55101], "nice": false, "zero": false}, "axis": {"values": [52500,53000,53500,54000,54500,55000], "labels": false, "title": null}},
      "y": {"field": "off", "type": "quantitative", "title": "offset (arcsec)", "scale": {"domain": [0.8066, 0.891], "nice": false, "zero": false}, "axis": {"values": [0.81,0.82,0.83,0.84,0.85,0.86,0.87,0.88,0.89], "format": ".2f", "title": "offset (arcsec)"}},
      "color": {"field": "f", "type": "nominal", "title": null,
       "scale": {"domain": ["F220W","F250W","F330W","F475W","F606W","F814W"], "range": ["#800080","#6495ed","#000080","#ff1493","#ff00ff","#0000ff"]},
       "legend": {"title": null, "labelExpr": "datum.label + ' Offset'", "symbolType": "M-0.07,-1H0.07V-0.32H0.32V0.32H0.07V1H-0.07V0.32H-0.32V-0.32H-0.07Z"}}}}
   ]
  },
  {
   "width": 237, "height": 60,
   "layer": [
    {"data": {"name": "sigL"}, "mark": {"type": "point", "filled": true, "opacity": 1, "size": 22, "shape": "cross"},
     "encoding": {
      "x": {"field": "mjd", "type": "quantitative", "title": "MJD", "scale": {"domain": [52194, 55098], "nice": false, "zero": false}, "axis": {"values": [52500,53000,53500,54000,54500,55000], "format": "d", "title": "MJD", "titleY": 13.5, "titleBaseline": "top", "tickSize": 2, "labelPadding": -0.5}},
      "y": {"field": "v", "type": "quantitative", "title": "sigma", "scale": {"domain": [-11, 14.2], "nice": false, "zero": false}, "axis": {"values": [-10,-5,0,5,10], "format": "d", "title": "sigma"}},
      "color": {"field": "s", "type": "nominal", "legend": null,
       "scale": {"domain": ["X","F220W","F250W","F330W","F475W","F606W","F814W"], "range": ["#008080","#e0701e","#8b0000","#808000","#00ffff","#00bfff","#808080"]}}}},
    {"data": {"values": [{}]}, "mark": {"type": "rule", "color": "#333", "strokeWidth": 1},
     "encoding": {"y": {"datum": 0, "type": "quantitative", "title": "sigma", "scale": {"domain": [-11, 14.2], "nice": false, "zero": false}, "axis": {"values": [-10,-5,0,5,10], "format": "d", "title": "sigma"}}}}
   ]
  },
  {
   "width": 235, "height": 60,
   "layer": [
    {"data": {"name": "sigR"}, "mark": {"type": "point", "filled": true, "opacity": 1, "size": 16, "shape": "square"},
     "encoding": {
      "x": {"field": "mjd", "type": "quantitative", "title": "MJD", "scale": {"domain": [52235, 55101], "nice": false, "zero": false}, "axis": {"values": [52500,53000,53500,54000,54500,55000], "format": "d", "title": "MJD", "titleY": 13.5, "titleBaseline": "top", "tickSize": 2, "labelPadding": -0.5}},
      "y": {"field": "v", "type": "quantitative", "title": "sigma", "scale": {"domain": [-11.7, 14.0], "nice": false, "zero": false}, "axis": {"values": [-10,-5,0,5,10], "format": "d", "title": "sigma"}},
      "color": {"field": "s", "type": "nominal", "legend": null,
       "scale": {"domain": ["X","F220W","F250W","F330W","F475W","F606W","F814W"], "range": ["#ffa500","#800080","#6495ed","#000080","#ff1493","#ff00ff","#0000ff"]}}}},
    {"data": {"values": [{}]}, "mark": {"type": "rule", "color": "#333", "strokeWidth": 1},
     "encoding": {"y": {"datum": 0, "type": "quantitative", "title": "sigma", "scale": {"domain": [-11.7, 14.0], "nice": false, "zero": false}, "axis": {"values": [-10,-5,0,5,10], "format": "d", "title": "sigma"}}}}
   ]
  }
 ],
 "config": {
  "font": "DejaVu Sans",
  "view": {"stroke": "#808080", "strokeWidth": 1},
  "axis": {"labelFont": "DejaVu Sans", "labelFontWeight": "bold", "labelFontSize": 10.5, "labelColor": "#000", "labelOverlap": false, "titleFont": "DejaVu Sans", "titleFontWeight": "bold", "titleFontSize": 10, "titleColor": "#000", "tickColor": "#555", "tickSize": 2.5, "tickWidth": 1, "labelPadding": 1.5, "titlePadding": 1, "domain": false, "grid": false},
  "legend": {"orient": "top-right", "offset": 3, "padding": 4, "fillColor": "white", "strokeColor": "#d0d0d0", "cornerRadius": 2, "labelFont": "DejaVu Sans", "labelFontSize": 7, "labelColor": "#000", "rowPadding": 1, "symbolSize": 81, "symbolStrokeWidth": 0, "labelOffset": 8}
 }
}
